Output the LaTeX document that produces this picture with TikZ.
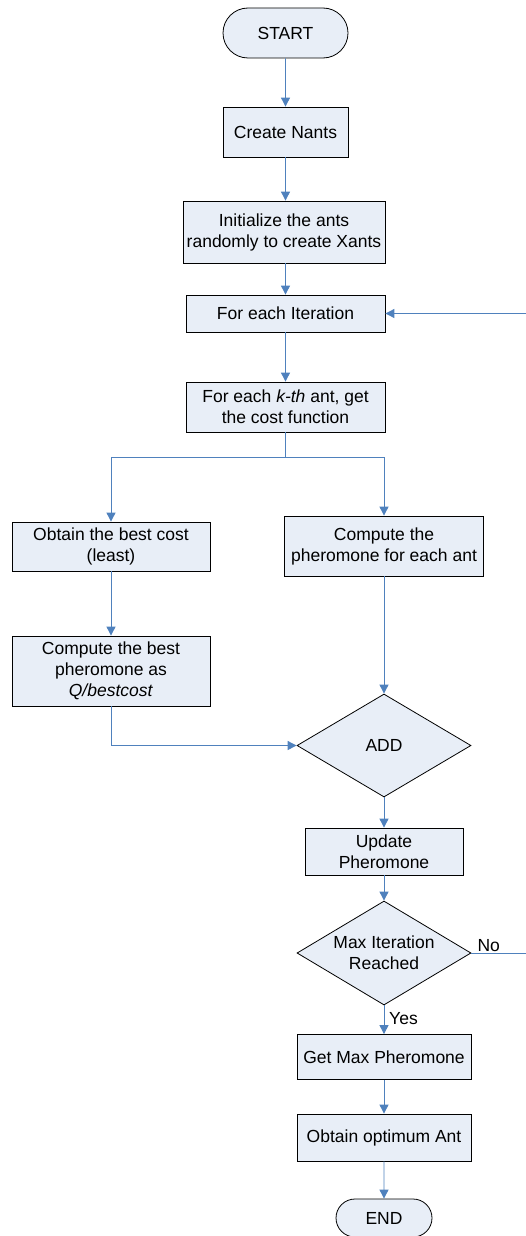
\documentclass[tikz,border=0pt]{standalone}
\usepackage{fontspec}
\setmainfont{Liberation Sans}
\usetikzlibrary{shapes.geometric,shapes.misc,arrows.meta}
\definecolor{boxfill}{RGB}{232,238,247}
\definecolor{linkblue}{RGB}{79,129,189}
\begin{document}
\begin{tikzpicture}[x=1pt,y=-1pt,
  every node/.style={font=\fontsize{17.5}{21}\selectfont},
  procbox/.style={draw=black,line width=0.8pt,fill=boxfill,rectangle,inner sep=0pt,align=center},
  termbox/.style={draw=black,line width=0.8pt,fill=boxfill,rounded rectangle,inner sep=0pt},
  decbox/.style={draw=black,line width=0.8pt,fill=boxfill,diamond,inner sep=0pt,align=center,aspect=1.68},
  link/.style={draw=linkblue,line width=0.9pt},
  arr/.style={link,-{Triangle[length=9pt,width=9pt]}},
  lbl/.style={inner sep=1pt}]
\useasboundingbox (0,0) rectangle (525,1236);
% nodes
\node[termbox,minimum width=125pt,minimum height=50pt] (start) at (285.5,33) {START};
\node[procbox,minimum width=125pt,minimum height=50pt] (create) at (285.5,132) {Create Nants};
\node[procbox,minimum width=202pt,minimum height=62pt] (init) at (284,232) {Initialize the ants\\randomly to create Xants};
\node[procbox,minimum width=199pt,minimum height=37pt] (iter) at (285.5,313.5) {For each Iteration};
\node[procbox,minimum width=199pt,minimum height=50pt] (kth) at (285.5,407) {For each \textit{k-th} ant, get\\the cost function};
\coordinate (split) at (285.5,457);
\node[procbox,minimum width=198pt,minimum height=49pt] (best) at (111,546.5) {Obtain the best cost\\(least)};
\node[procbox,minimum width=198pt,minimum height=70pt] (bestph) at (111,671) {Compute the best\\pheromone as\\\textit{Q/bestcost}};
\node[procbox,minimum width=199pt,minimum height=60pt] (pher) at (384,546) {Compute the\\pheromone for each ant};
\node[decbox,minimum width=174pt,minimum height=103pt] (add) at (384,745.5) {ADD};
\node[procbox,minimum width=158pt,minimum height=47pt] (upd) at (384,851.5) {Update\\Pheromone};
\node[decbox,minimum width=174pt,minimum height=104pt] (maxit) at (384,953) {Max Iteration\\Reached};
\node[procbox,minimum width=174pt,minimum height=45pt] (getmax) at (384,1057) {Get Max Pheromone};
\node[procbox,minimum width=174pt,minimum height=47pt] (opt) at (384,1137.5) {Obtain optimum Ant};
\node[termbox,minimum width=96pt,minimum height=38pt] (end) at (384,1218) {END};
\coordinate (loopA) at (528,953);
\coordinate (loopB) at (528,313.5);
% connectors
\draw[arr] (start) -- (create);
\draw[arr] (create.south) -- (create.south |- init.north);
\draw[arr] (init.south -| iter.north) -- (iter);
\draw[arr] (iter) -- (kth);
\draw[link] (kth.south) -- (split);
\draw[arr] (split) -| (best.north);
\draw[arr] (split) -| (pher.north);
\draw[arr] (best) -- (bestph);
\draw[arr] (pher) -- (add);
\draw[arr] (bestph.south) |- (add.west);
\draw[arr] (add) -- (upd);
\draw[arr] (upd) -- (maxit);
\draw[arr] (maxit.east) -- (loopA) -- (loopB) -- (iter.east);
\node[lbl,anchor=south west] (no) at ([xshift=5pt,yshift=0pt]maxit.east) {No};
\draw[arr] (maxit) -- (getmax);
\node[lbl,anchor=base west] (yes) at ([xshift=4pt,yshift=-19pt]maxit.south) {Yes};
\draw[arr] (getmax) -- (opt);
\draw[arr] (opt) -- (end);
\end{tikzpicture}
\end{document}
